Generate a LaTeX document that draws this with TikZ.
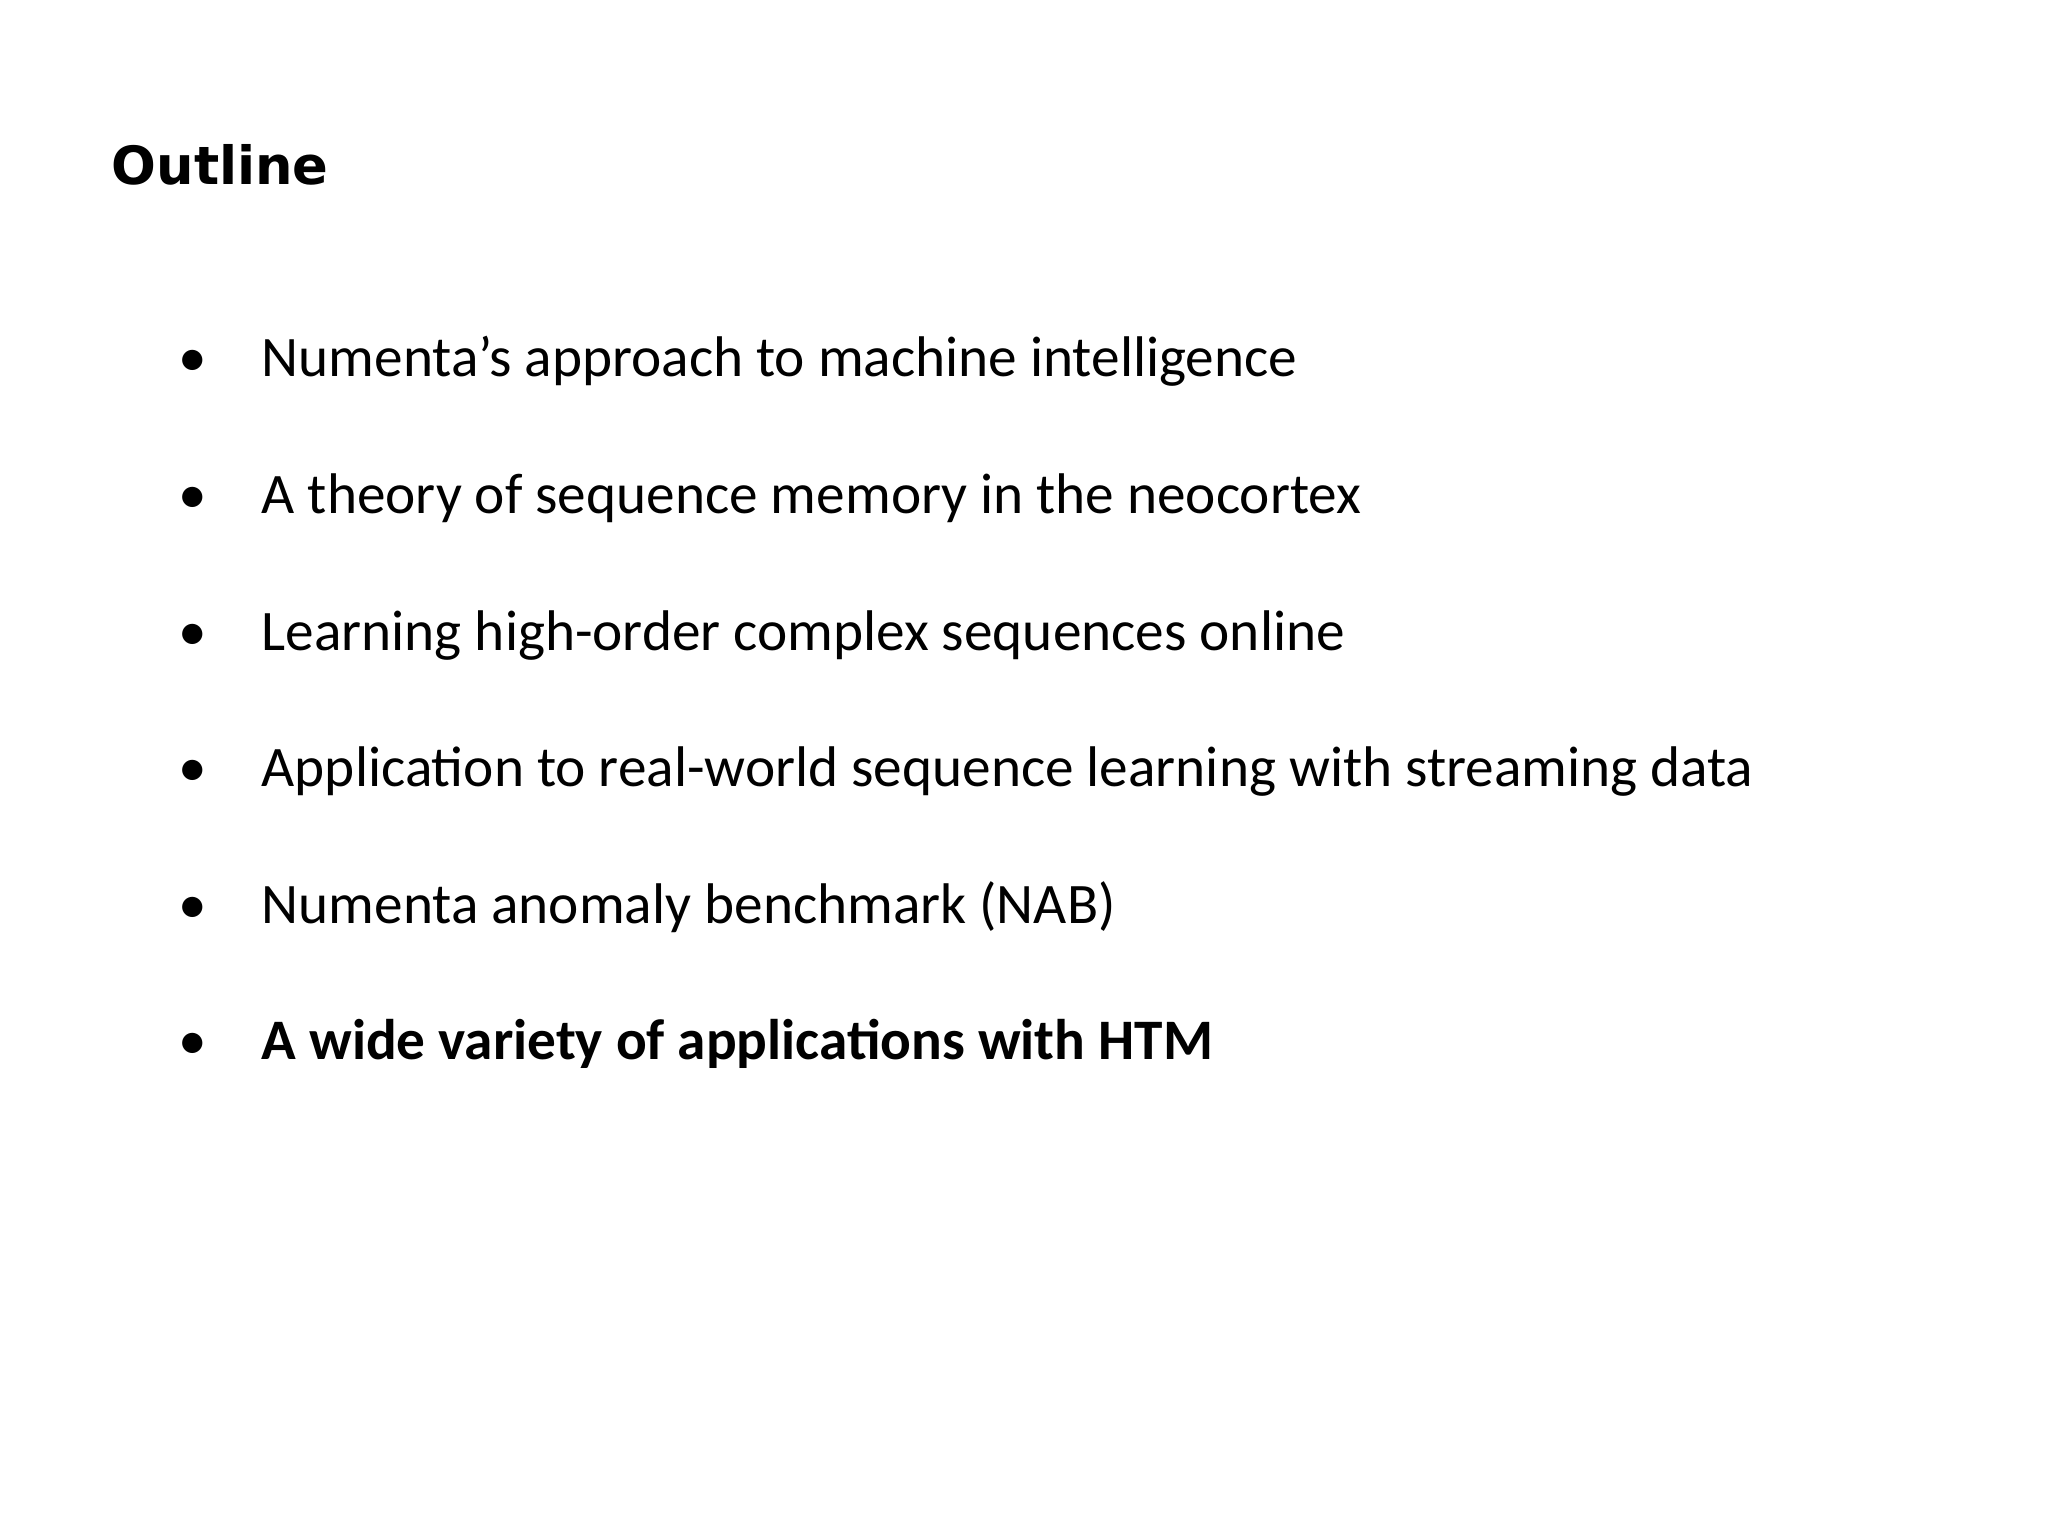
\documentclass[tikz,border=0pt]{standalone}
\usepackage{fontspec}
\setmainfont{Carlito}
\newfontfamily\titlefont{DejaVu Sans}
\begin{document}
\begin{tikzpicture}[x=1cm,y=1cm,
  item/.style={anchor=base west,inner sep=0pt,font=\fontsize{16.3}{20}\selectfont},
  bul/.style={anchor=base,inner sep=0pt,font=\fontsize{16.3}{20}\selectfont}]
\useasboundingbox[fill=white] (0,0) rectangle (20.48,15.36);
\node[anchor=base west,inner sep=0pt,font=\titlefont\bfseries\fontsize{15}{18}\selectfont] (title) at (1.11,13.51) {Outline};
\foreach \y/\t/\n in {11.59/{Numenta’s approach to machine intelligence}/a,
  10.22/{A theory of sequence memory in the neocortex}/b,
  8.85/{Learning high-order complex sequences online}/c,
  7.49/{Application to real-world sequence learning with streaming data}/d,
  6.12/{Numenta anomaly benchmark (NAB)}/e}{
  \node[bul] (b\n) at (1.93,\y) {•};
  \node[item] (t\n) at (2.61,\y) {\t};
}
\node[bul] (bf) at (1.93,4.76) {•};
\node[item,font=\bfseries\fontsize{16.3}{20}\selectfont] (tf) at (2.61,4.76) {A wide variety of applications with HTM};
\end{tikzpicture}
\end{document}
